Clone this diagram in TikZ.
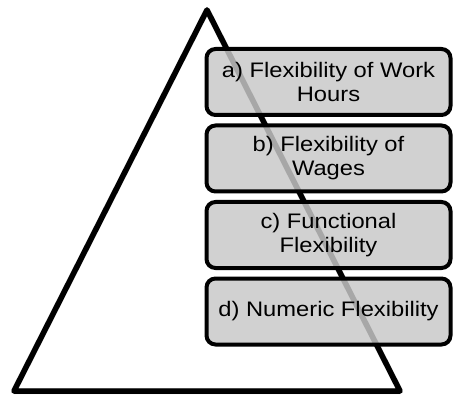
\documentclass[tikz,border=0pt]{standalone}
\usepackage{fontspec}
\setmainfont[FakeStretch=1.13]{Liberation Sans}
\begin{document}
\begin{tikzpicture}[x=1pt,y=-1pt,
  levelbox/.style={draw=black, line width=4pt, rounded corners=9pt,
    fill={rgb,255:red,200;green,200;blue,200}, fill opacity=0.84, text opacity=1,
    minimum width=244pt, minimum height=66pt, inner sep=0pt, align=center,
    font=\fontsize{21}{24}\selectfont},
  tri/.style={draw=black, line width=5.5pt, line join=round}]
\useasboundingbox (0,0) rectangle (453,401);
\coordinate (L) at (14,391);
\coordinate (T) at (207,10);
\coordinate (R) at (400,391);
% soft shadow
\draw[line width=6pt, line join=round, black, opacity=0.18, shift={(1.5,2.5)}] (L) -- (T) -- (R) -- cycle;
\draw[tri] (L) -- (T) -- (R) -- cycle;
\node[levelbox] (a) at (328.5,82) {a) Flexibility of Work\\Hours};
\node[levelbox] (b) at (328.5,158.5) {b) Flexibility of\\Wages};
\node[levelbox] (c) at (328.5,235) {c) Functional\\Flexibility};
\node[levelbox] (d) at (328.5,311.5) {d) Numeric Flexibility};
\end{tikzpicture}
\end{document}
